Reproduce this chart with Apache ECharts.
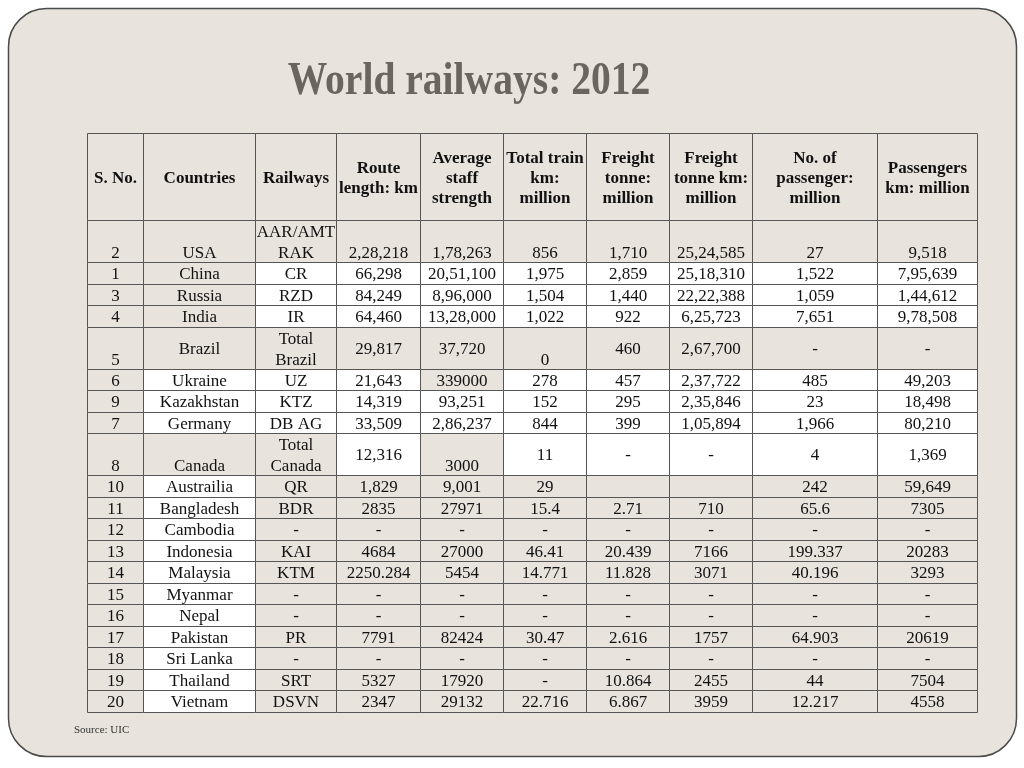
<!DOCTYPE html>
<html>
<head>
<meta charset="utf-8">
<script src="https://cdn.jsdelivr.net/npm/echarts@6/dist/echarts.min.js"></script>
<style>html,body{margin:0;padding:0;background:#fff}#chart{width:1024px;height:768px}</style>
</head>
<body>
<div id="chart"></div>
<script>
// ---------- DATA ----------
const headers = ['S. No.','Countries','Railways','Route\nlength: km','Average\nstaff\nstrength','Total train\nkm:\nmillion','Freight\ntonne:\nmillion','Freight\ntonne km:\nmillion','No. of\npassenger:\nmillion','Passengers\nkm: million'];
const serialNo = ['2','1','3','4','5','6','9','7','8','10','11','12','13','14','15','16','17','18','19','20'];
const countries = ['USA','China','Russia','India','Brazil','Ukraine','Kazakhstan','Germany','Canada','Austrailia','Bangladesh','Cambodia','Indonesia','Malaysia','Myanmar','Nepal','Pakistan','Sri Lanka','Thailand','Vietnam'];
const railways = ['AAR/AMT\nRAK','CR','RZD','IR','Total\nBrazil','UZ','KTZ','DB AG','Total\nCanada','QR','BDR','-','KAI','KTM','-','-','PR','-','SRT','DSVN'];
const routeLengthKm = ['2,28,218','66,298','84,249','64,460','29,817','21,643','14,319','33,509','12,316','1,829','2835','-','4684','2250.284','-','-','7791','-','5327','2347'];
const staffStrength = ['1,78,263','20,51,100','8,96,000','13,28,000','37,720','339000','93,251','2,86,237','3000','9,001','27971','-','27000','5454','-','-','82424','-','17920','29132'];
const trainKmMillion = ['856','1,975','1,504','1,022','0','278','152','844','11','29','15.4','-','46.41','14.771','-','-','30.47','-','-','22.716'];
const freightTonneMillion = ['1,710','2,859','1,440','922','460','457','295','399','-','','2.71','-','20.439','11.828','-','-','2.616','-','10.864','6.867'];
const freightTonneKmMillion = ['25,24,585','25,18,310','22,22,388','6,25,723','2,67,700','2,37,722','2,35,846','1,05,894','-','','710','-','7166','3071','-','-','1757','-','2455','3959'];
const passengersMillion = ['27','1,522','1,059','7,651','-','485','23','1,966','4','242','65.6','-','199.337','40.196','-','-','64.903','-','44','12.217'];
const passengerKmMillion = ['9,518','7,95,639','1,44,612','9,78,508','-','49,203','18,498','80,210','1,369','59,649','7305','-','20283','3293','-','-','20619','-','7504','4558'];
const titleText = 'World railways: 2012';
const sourceText = 'Source: UIC';

// ---------- LAYOUT / STYLE ----------
const columns = [serialNo, countries, railways, routeLengthKm, staffStrength, trainKmMillion, freightTonneMillion, freightTonneKmMillion, passengersMillion, passengerKmMillion];
const colWidths = [56,112,81,84,83,83,83,83,125,100];
const rowHeights = [87,42,21.7,21.7,21.6,41.7,21.7,21.3,21.7,42,21.5,21.5,21.5,21.5,21.5,21.5,21.5,21.5,21.5,21.5,21.5];
// B = beige cell, W = white cell
const fillPattern = [
  'BBBBBBBBBB','BBBBBBBBBB','BBWWWWWWWW','BBWWWWWWWW','BBWWWWWWWW','BBBBBBBBBB',
  'BWWWBWWWWW','BWWWWWWWWW','BWWWWWWWWW','BBBWBWWWWW',
  'BWBBBBBBBB','BWBBBBBBBB','BWBBBBBBBB','BWBBBBBBBB','BWBBBBBBBB','BWBBBBBBBB',
  'BWBBBBBBBB','BWBBBBBBBB','BWBBBBBBBB','BWBBBBBBBB','BWBBBBBBBB'
];
const bottomAligned = {1:[0,1,2,3,4,5,6,7,8,9], 5:[0,5], 9:[0,1,2,4]};
const BEIGE = '#e8e3dd', WHITE = '#ffffff', LINE = '#555555';
const FONT = '"Liberation Serif","Times New Roman",serif';

const colEdges = [0]; colWidths.forEach(w => colEdges.push(colEdges[colEdges.length-1] + w));
const rowEdges = [0]; rowHeights.forEach(h => rowEdges.push(rowEdges[rowEdges.length-1] + h));
const totalW = colEdges[colEdges.length-1], totalH = rowEdges[rowEdges.length-1];

function cellText(r, c){ return r === 0 ? headers[c] : columns[c][r-1]; }

const cells = [];
for (let r = 0; r < rowHeights.length; r++) for (let c = 0; c < colWidths.length; c++) cells.push([c, r]);

const chart = echarts.init(document.getElementById('chart'));
chart.setOption({
  animation: false,
  backgroundColor: '#ffffff',
  graphic: [
    {type:'rect', z:-10, shape:{x:8.5, y:8.5, width:1008, height:748, r:38},
     style:{fill:BEIGE, stroke:'#4a4a4a', lineWidth:1.5}},
    {type:'text', z:-5, x:469, y:82, scaleX:0.86,
     style:{text:titleText, font:'bold 46px ' + FONT, fill:'#6b6560', align:'center', verticalAlign:'middle'}},
    {type:'text', z:-5, x:74, y:730,
     style:{text:sourceText, font:'11px ' + FONT, fill:'#333333', align:'left', verticalAlign:'middle'}}
  ],
  grid: {left:87, top:133, width:totalW, height:totalH},
  xAxis: {type:'value', min:0, max:totalW, show:false},
  yAxis: {type:'value', min:0, max:totalH, inverse:true, show:false},
  series: [{
    type:'custom',
    silent:true,
    data: cells,
    renderItem: function(params, api){
      const c = api.value(0), r = api.value(1);
      const p0 = api.coord([colEdges[c], rowEdges[r]]);
      const p1 = api.coord([colEdges[c+1], rowEdges[r+1]]);
      const x0 = Math.round(p0[0]) + 0.5, y0 = Math.round(p0[1]) + 0.5;
      const x1 = Math.round(p1[0]) + 0.5, y1 = Math.round(p1[1]) + 0.5;
      const bottom = bottomAligned[r] && bottomAligned[r].indexOf(c) >= 0;
      const txt = cellText(r, c);
      return {
        type:'group',
        children:[
          {type:'rect', shape:{x:x0, y:y0, width:x1-x0, height:y1-y0},
           style:{fill: fillPattern[r][c] === 'B' ? BEIGE : WHITE, stroke:LINE, lineWidth:1}},
          {type:'text', style:{
            text: txt, x:(x0+x1)/2, y: bottom ? y1 + 2 : (y0+y1)/2 + 1.5,
            align:'center', verticalAlign: bottom ? 'bottom' : 'middle',
            font: (r === 0 ? 'bold ' : '') + '17px ' + FONT,
            lineHeight: r === 0 ? 20 : 21,
            fill:'#111111'
          }}
        ]
      };
    }
  }]
});
</script>
</body>
</html>
